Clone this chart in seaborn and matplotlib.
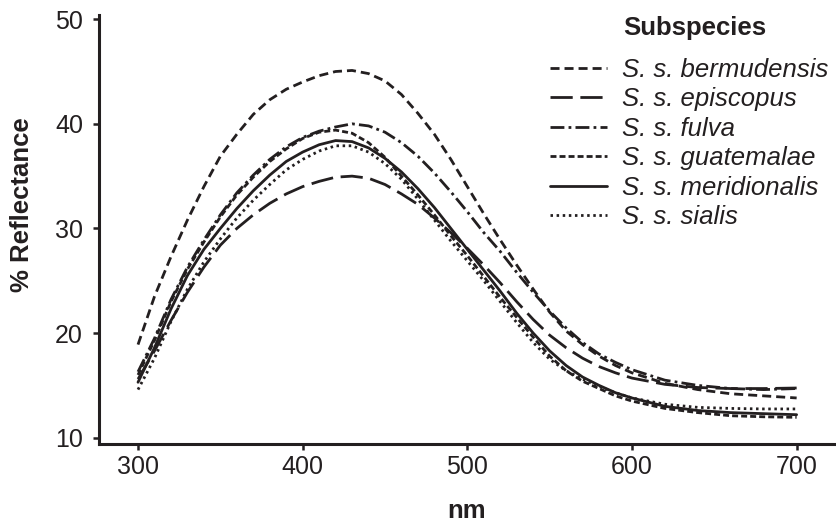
import numpy as np
import pandas as pd
import matplotlib
matplotlib.use("Agg")
import matplotlib.pyplot as plt
import seaborn as sns

# Wavelengths (nm) at which reflectance is tabulated
wavelength = [300, 310, 320, 330, 340, 350, 360, 370, 380, 390, 400, 410,
              420, 430, 440, 450, 460, 470, 480, 490, 500, 510, 520, 530,
              540, 550, 560, 570, 580, 590, 600, 620, 640, 660, 680, 700]

subspecies = ["S. s. bermudensis", "S. s. episcopus", "S. s. fulva",
              "S. s. guatemalae", "S. s. meridionalis", "S. s. sialis"]

# Mean % reflectance per subspecies
bermudensis = [18.9, 23.5, 27.3, 30.8, 34.0, 36.9, 39.0, 40.9, 42.3, 43.3,
               44.0, 44.6, 45.0, 45.1, 44.8, 44.1, 42.8, 41.0, 39.0, 36.6,
               34.0, 31.4, 28.9, 26.5, 24.2, 22.0, 20.2, 18.9, 17.8, 16.9,
               16.2, 15.2, 14.6, 14.2, 14.0, 13.8]
episcopus = [15.6, 18.3, 21.2, 23.9, 26.3, 28.4, 30.0, 31.3, 32.4, 33.3,
             34.0, 34.5, 34.9, 35.0, 34.8, 34.2, 33.3, 32.3, 31.0, 29.6,
             28.1, 26.5, 24.8, 23.0, 21.3, 19.8, 18.6, 17.6, 16.8, 16.2,
             15.7, 15.1, 14.8, 14.7, 14.7, 14.75]
fulva = [16.3, 19.5, 23.2, 26.3, 28.9, 31.3, 33.4, 35.1, 36.6, 37.8,
         38.7, 39.3, 39.7, 40.0, 39.8, 39.2, 38.2, 36.9, 35.3, 33.5,
         31.6, 29.6, 27.8, 25.8, 23.9, 22.1, 20.5, 19.1, 18.0, 17.2,
         16.5, 15.5, 15.0, 14.7, 14.6, 14.7]
guatemalae = [16.0, 19.3, 23.0, 26.1, 28.7, 31.1, 33.2, 34.9, 36.4, 37.6,
              38.6, 39.2, 39.4, 39.1, 38.2, 36.8, 35.0, 33.2, 31.3, 29.3,
              27.4, 25.4, 23.4, 21.5, 19.6, 17.8, 16.4, 15.4, 14.7, 14.0,
              13.5, 12.8, 12.4, 12.1, 12.0, 11.95]
meridionalis = [15.3, 18.6, 22.3, 25.5, 28.0, 30.0, 31.9, 33.6, 35.1, 36.4,
                37.3, 38.0, 38.4, 38.3, 37.7, 36.7, 35.4, 33.8, 32.0, 30.0,
                28.0, 26.0, 24.0, 21.9, 20.0, 18.3, 16.9, 15.8, 15.0, 14.3,
                13.8, 13.0, 12.6, 12.4, 12.3, 12.2]
sialis = [14.6, 17.6, 21.1, 24.2, 26.8, 29.0, 31.0, 32.7, 34.2, 35.6,
          36.6, 37.4, 37.9, 37.9, 37.3, 36.2, 34.7, 32.8, 30.8, 28.8,
          26.9, 25.0, 23.0, 21.0, 19.1, 17.5, 16.4, 15.6, 14.9, 14.3,
          13.8, 13.2, 12.9, 12.8, 12.75, 12.75]

series = [bermudensis, episcopus, fulva, guatemalae, meridionalis, sialis]

df = pd.DataFrame({
    "nm": np.tile(wavelength, len(subspecies)),
    "reflectance": np.concatenate(series),
    "subspecies": np.repeat(subspecies, len(wavelength)),
})

sns.set_style("ticks")
plt.rcParams["font.family"] = ["Liberation Sans", "DejaVu Sans"]
plt.rcParams["lines.scale_dashes"] = False

ink = "#231f20"

# Dash patterns in points (on, off, ...)
dash_map = {
    "S. s. bermudensis": (6.5, 3.6),
    "S. s. episcopus": (16, 5.5),
    "S. s. fulva": (10, 3, 2, 3),
    "S. s. guatemalae": (4.3, 2.2),
    "S. s. meridionalis": "",
    "S. s. sialis": (1.8, 2.6),
}

fig = plt.figure(figsize=(8.36, 5.27), dpi=100)
ax = fig.add_axes([99 / 836, 83 / 527, 736 / 836, 429 / 527])

sns.lineplot(data=df, x="nm", y="reflectance", hue="subspecies",
             style="subspecies", hue_order=subspecies, style_order=subspecies,
             palette=[ink] * len(subspecies), dashes=dash_map,
             linewidth=2.0, legend=False, ax=ax)

ax.set_xlim(276.3, 723.3)
ax.set_ylim(9.4, 50.4)
ax.set_xticks([300, 400, 500, 600, 700])
ax.set_yticks([10, 20, 30, 40, 50])

for side in ["top", "right"]:
    ax.spines[side].set_visible(False)
for side in ["left", "bottom"]:
    ax.spines[side].set_linewidth(2.2)
    ax.spines[side].set_color(ink)

ax.tick_params(axis="both", direction="out", length=4.5, width=1.8,
               color=ink, labelcolor=ink, labelsize=18)
ax.tick_params(axis="x", pad=3.5)
ax.tick_params(axis="y", pad=7)

ax.set_xlabel("nm", fontsize=18.5, fontweight="bold", color=ink, va="center")
ax.xaxis.set_label_coords(0.5, -0.157)
ax.set_ylabel("% Reflectance", fontsize=18.5, fontweight="bold", color=ink,
              va="center")
ax.yaxis.set_label_coords(-0.104, 0.559)

leg = ax.legend(ax.lines[:len(subspecies)], subspecies,
                loc="upper left", bbox_to_anchor=(550 / 836, 1 - 58 / 527),
                bbox_transform=fig.transFigure, frameon=False,
                borderpad=0, borderaxespad=0, handlelength=2.2,
                handletextpad=0.62, labelspacing=0.21,
                prop={"style": "italic", "size": 18.5})
for t in leg.get_texts():
    t.set_color(ink)

fig.text(623 / 836, 1 - 28 / 527, "Subspecies", fontsize=18.5,
         fontweight="bold", color=ink, ha="left", va="center")

fig.savefig("out.png", dpi=100)
